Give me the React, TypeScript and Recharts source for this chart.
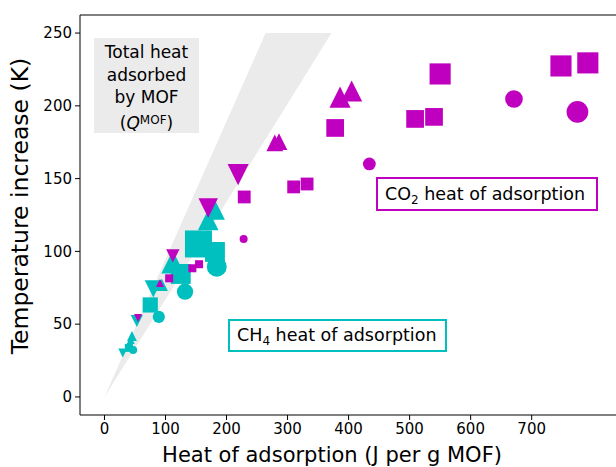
import React from 'react';
import { ComposedChart, Area, Scatter, XAxis, YAxis, ZAxis, ReferenceLine } from 'recharts';

// marker size level (z) is the third value of every point
const co2Squares = [
  { x: 792, y: 229.5, z: 3.3 }, { x: 748, y: 227.4, z: 3.3 }, { x: 550, y: 221.9, z: 3.3 },
  { x: 509, y: 191, z: 2.5 }, { x: 540, y: 192.4, z: 2.5 }, { x: 378, y: 184.8, z: 2.5 },
  { x: 229, y: 137.4, z: 1.6 }, { x: 310, y: 144.3, z: 1.6 }, { x: 332, y: 146.3, z: 1.6 },
  { x: 144, y: 88.4, z: 1 }, { x: 155, y: 91.2, z: 1 }, { x: 106, y: 81.5, z: 1 },
];
const co2Circles = [
  { x: 775, y: 195.8, z: 3.45 }, { x: 671, y: 204.7, z: 2.5 }, { x: 434, y: 160.1, z: 1.6 }, { x: 228, y: 108.5, z: 1 },
];
const co2TriUp = [
  { x: 386, y: 206, z: 3.3 }, { x: 405, y: 210.2, z: 3.3 }, { x: 279, y: 174.5, z: 2.3 },
  { x: 286, y: 175.4, z: 2.3 }, { x: 91, y: 78.3, z: 1 },
];
const co2TriDown = [
  { x: 219, y: 152.7, z: 3.3 }, { x: 170, y: 129.8, z: 2.9 }, { x: 112, y: 96.9, z: 1.7 }, { x: 55, y: 54.3, z: 1 },
];

const ch4Squares = [
  { x: 154, y: 105.1, z: 5 }, { x: 181, y: 99.6, z: 3 }, { x: 125, y: 84.5, z: 3 },
  { x: 75, y: 63.2, z: 2 }, { x: 40, y: 33.7, z: 1 },
];
const ch4Circles = [
  { x: 184, y: 89.5, z: 3 }, { x: 132, y: 72.3, z: 2.2 }, { x: 89, y: 55, z: 1.5 }, { x: 47, y: 32.3, z: 1 },
];
const ch4TriUp = [
  { x: 181, y: 128.5, z: 3 }, { x: 170, y: 121.6, z: 3.2 }, { x: 112, y: 92.7, z: 3.8 },
  { x: 94, y: 77, z: 1.5 }, { x: 45, y: 41.9, z: 1.2 }, { x: 43, y: 39.2, z: 1 },
];
const ch4TriDown = [
  { x: 80, y: 74.2, z: 2.4 }, { x: 53, y: 52.2, z: 1.5 }, { x: 30, y: 30.2, z: 1.1 },
];

// Q_MOF band: lower and upper bound lines
const bandX = [0, 264, 372];
const bandLow = [0, 177, 250];
const bandHigh = [0, 250, 250];
const band = bandX.map((x, i) => ({ x, range: [bandLow[i], bandHigh[i]] }));

const xTicks = [0, 100, 200, 300, 400, 500, 600, 700];
const yTicks = [0, 50, 100, 150, 200, 250];

const X_DOMAIN: [number, number] = [-40.1, 877.5];
const Y_DOMAIN: [number, number] = [-12.4, 262.4];

const MAGENTA = '#bf00bf';
const CYAN = '#00bfbf';
const FONT = '"DejaVu Sans", sans-serif';

type Kind = 'square' | 'circle' | 'up' | 'down';

const marker = (kind: Kind, color: string) => (props: any) => {
  const { cx, cy, size } = props;
  const w = Math.sqrt(size);
  const h = w / 2;
  if (kind === 'circle') return <circle cx={cx} cy={cy} r={h} fill={color} />;
  if (kind === 'square') return <rect x={cx - h} y={cy - h} width={w} height={w} fill={color} />;
  if (kind === 'up')
    return <polygon points={`${cx},${cy - h} ${cx - h},${cy + h} ${cx + h},${cy + h}`} fill={color} />;
  return <polygon points={`${cx},${cy + h} ${cx - h},${cy - h} ${cx + h},${cy - h}`} fill={color} />;
};

const tickStyle = { fontSize: 15, fill: '#000', fontFamily: FONT };

export default function App() {
  return (
    <div style={{ position: 'absolute', left: 0, top: 0, width: 616, height: 467, overflow: 'hidden', background: '#fff', fontFamily: FONT }}>
      <ComposedChart width={700} height={467} data={band} margin={{ top: 15, right: 60, bottom: 22, left: 20 }}>
        <XAxis
          dataKey="x"
          type="number"
          domain={X_DOMAIN}
          ticks={xTicks}
          allowDataOverflow
          height={30}
          stroke="#000"
          tickSize={5}
          tickMargin={3}
          tick={tickStyle}
        />
        <YAxis
          dataKey="y"
          type="number"
          domain={Y_DOMAIN}
          ticks={yTicks}
          allowDataOverflow
          width={60}
          stroke="#000"
          tickSize={5}
          tickMargin={3}
          tick={tickStyle}
        />
        <ZAxis dataKey="z" type="number" domain={[1, 5]} range={[64, 729]} />
        <ReferenceLine y={Y_DOMAIN[1]} stroke="#000" />
        <Area type="linear" dataKey="range" fill="#ebebeb" fillOpacity={1} stroke="none" dot={false} activeDot={false} isAnimationActive={false} />
        <Scatter data={ch4Squares} shape={marker('square', CYAN)} isAnimationActive={false} />
        <Scatter data={ch4Circles} shape={marker('circle', CYAN)} isAnimationActive={false} />
        <Scatter data={ch4TriUp} shape={marker('up', CYAN)} isAnimationActive={false} />
        <Scatter data={ch4TriDown} shape={marker('down', CYAN)} isAnimationActive={false} />
        <Scatter data={co2Squares} shape={marker('square', MAGENTA)} isAnimationActive={false} />
        <Scatter data={co2Circles} shape={marker('circle', MAGENTA)} isAnimationActive={false} />
        <Scatter data={co2TriUp} shape={marker('up', MAGENTA)} isAnimationActive={false} />
        <Scatter data={co2TriDown} shape={marker('down', MAGENTA)} isAnimationActive={false} />
      </ComposedChart>

      <div style={{ position: 'absolute', left: 94, top: 38, width: 105, height: 95, background: '#ebebeb', textAlign: 'center', fontSize: 17, lineHeight: '22.7px', paddingTop: 3, boxSizing: 'border-box' }}>
        Total heat<br />adsorbed<br />by MOF<br />(<i>Q</i><span style={{ fontSize: 12, verticalAlign: '0.45em' }}>MOF</span>)
      </div>

      <div style={{ position: 'absolute', left: 376, top: 177, width: 222, height: 34, border: `2px solid ${MAGENTA}`, boxSizing: 'border-box', background: '#fff', fontSize: 17.5, lineHeight: '30px', paddingLeft: 7, whiteSpace: 'nowrap' }}>
        CO<span style={{ fontSize: 12, verticalAlign: '-0.3em' }}>2</span> heat of adsorption
      </div>

      <div style={{ position: 'absolute', left: 228, top: 319, width: 219, height: 33, border: `2.5px solid ${CYAN}`, boxSizing: 'border-box', background: '#fff', fontSize: 17.5, lineHeight: '28px', paddingLeft: 7, whiteSpace: 'nowrap' }}>
        CH<span style={{ fontSize: 12, verticalAlign: '-0.3em' }}>4</span> heat of adsorption
      </div>

      <div style={{ position: 'absolute', left: 21, top: 206, transform: 'translate(-50%, -50%) rotate(-90deg)', fontSize: 23.5, lineHeight: '23.5px', whiteSpace: 'nowrap' }}>
        Temperature increase (K)
      </div>
      <div style={{ position: 'absolute', left: 332, top: 445, transform: 'translateX(-50%)', fontSize: 21, lineHeight: '21px', whiteSpace: 'nowrap' }}>
        Heat of adsorption (J per g MOF)
      </div>
    </div>
  );
}
